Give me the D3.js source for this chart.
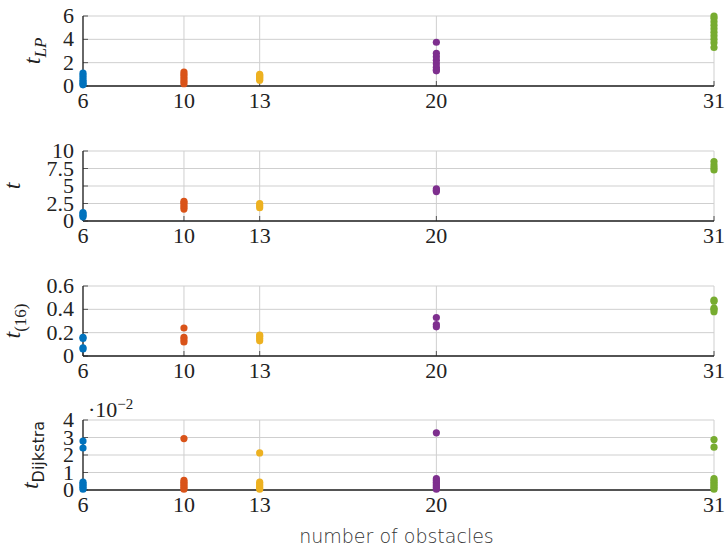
<!DOCTYPE html>
<html><head><meta charset="utf-8">
<script src="https://cdn.jsdelivr.net/npm/d3@7"></script>
<style>body{margin:0;background:#fff}svg{display:block}</style>
</head><body>
<script>
const categories = [6, 10, 13, 20, 31];
const seriesColors = ["#0072BD", "#D95319", "#EDB120", "#7E2F8E", "#77AC30"];
const tLP = [
  [0.1, 0.2, 0.35, 0.5, 0.7, 0.9, 1.1],
  [0.2, 0.4, 0.6, 0.8, 1.0, 1.2],
  [0.5, 0.6, 0.7, 0.8, 0.9, 1.0],
  [1.3, 1.4, 1.6, 1.9, 2.2, 2.5, 2.8, 3.75],
  [3.3, 3.7, 4.0, 4.3, 4.6, 4.9, 5.2, 5.5, 5.8, 6.0]
];
const tTotal = [
  [0.6, 0.8, 1.0, 1.2],
  [1.7, 2.0, 2.3, 2.6, 2.8],
  [1.9, 2.2, 2.5],
  [4.2, 4.4, 4.6],
  [7.3, 7.6, 8.0, 8.5]
];
const t16 = [
  [0.06, 0.07, 0.15, 0.16],
  [0.12, 0.14, 0.16, 0.24],
  [0.13, 0.15, 0.17, 0.18],
  [0.25, 0.27, 0.33],
  [0.38, 0.40, 0.41, 0.47, 0.48]
];
const tDijkstra = [
  [0.0005, 0.0015, 0.0025, 0.0035, 0.0045, 0.024, 0.028],
  [0.0005, 0.0015, 0.0025, 0.0035, 0.0045, 0.0055, 0.0294],
  [0.0005, 0.0015, 0.0025, 0.0035, 0.0045, 0.0212],
  [0.0005, 0.0015, 0.0025, 0.0035, 0.0045, 0.0055, 0.0065, 0.0327],
  [0.0005, 0.0015, 0.0025, 0.0035, 0.0045, 0.0055, 0.0065, 0.0245, 0.0288]
];
const yTicks1 = [0, 2, 4, 6];
const yTicks2 = [0, 2.5, 5, 7.5, 10];
const yTicks3 = [0, 0.2, 0.4, 0.6];
const yTicks4 = [0, 0.01, 0.02, 0.03, 0.04];
const xLabel = "number of obstacles";

const W = 727, H = 547;
const svg = d3.select("body").append("svg").attr("width", W).attr("height", H);
const x = d3.scaleLinear().domain([6, 31]).range([83, 714]);
const serif = "'Liberation Serif', 'DejaVu Serif', serif";
const sans = "'DejaVu Sans', sans-serif";

const panels = [
  {data: tLP, ticks: yTicks1, top: 16, fmt: d => d, label: "LP", labelX: 40},
  {data: tTotal, ticks: yTicks2, top: 151, fmt: d => d, label: "", labelX: 20},
  {data: t16, ticks: yTicks3, top: 286, fmt: d => d, label: "(16)", labelX: 20},
  {data: tDijkstra, ticks: yTicks4, top: 420, fmt: d => Math.round(d * 100), label: "Dijkstra", labelX: 38}
];

panels.forEach((p, pi) => {
  const h = 70;
  const y = d3.scaleLinear().domain([p.ticks[0], p.ticks[p.ticks.length - 1]]).range([p.top + h, p.top]);
  const g = svg.append("g");
  g.selectAll(".hg").data(p.ticks).join("line")
    .attr("x1", x(6)).attr("x2", x(31)).attr("y1", d => y(d)).attr("y2", d => y(d))
    .attr("stroke", "#cfcfcf").attr("stroke-width", 1);
  g.selectAll(".vg").data(categories).join("line")
    .attr("x1", d => x(d)).attr("x2", d => x(d)).attr("y1", p.top).attr("y2", p.top + h)
    .attr("stroke", "#cfcfcf").attr("stroke-width", 1);
  g.selectAll(".yt").data(p.ticks).join("line")
    .attr("x1", x(6)).attr("x2", x(6) + 5).attr("y1", d => y(d)).attr("y2", d => y(d))
    .attr("stroke", "#555").attr("stroke-width", 1);
  g.selectAll(".xt").data(categories).join("line")
    .attr("x1", d => x(d)).attr("x2", d => x(d)).attr("y1", p.top + h).attr("y2", p.top + h - 5)
    .attr("stroke", "#555").attr("stroke-width", 1);
  g.append("line").attr("x1", x(6)).attr("x2", x(6)).attr("y1", p.top).attr("y2", p.top + h)
    .attr("stroke", "#222").attr("stroke-width", 1.3);
  g.append("line").attr("x1", x(6)).attr("x2", x(31)).attr("y1", p.top + h).attr("y2", p.top + h)
    .attr("stroke", "#222").attr("stroke-width", 1.3);
  g.selectAll(".yl").data(p.ticks).join("text")
    .attr("x", 74).attr("y", d => y(d) + 7).attr("text-anchor", "end")
    .attr("font-family", serif).attr("font-size", 22).attr("fill", "#222")
    .text(p.fmt);
  g.selectAll(".xl").data(categories).join("text")
    .attr("x", d => x(d)).attr("y", p.top + h + 22).attr("text-anchor", "middle")
    .attr("font-family", serif).attr("font-size", 22).attr("fill", "#222")
    .text(d => d);
  p.data.forEach((vals, ci) => {
    g.selectAll(".pt" + ci).data(vals).join("circle")
      .attr("cx", x(categories[ci])).attr("cy", d => y(d)).attr("r", 3.6)
      .attr("fill", seriesColors[ci]);
  });
  const cy = p.top + h / 2;
  const lab = g.append("text")
    .attr("transform", `translate(${p.labelX},${cy}) rotate(-90)`)
    .attr("text-anchor", "middle").attr("fill", "#222");
  lab.append("tspan").attr("font-family", serif).attr("font-style", "italic").attr("font-size", 24).text("t");
  if (p.label) {
    const ts = lab.append("tspan").attr("dy", 6).attr("font-size", 17);
    if (p.label === "LP") ts.attr("font-family", serif).attr("font-style", "italic");
    else if (p.label === "(16)") ts.attr("font-family", serif);
    else ts.attr("font-family", sans).attr("font-size", 16);
    ts.text(p.label);
  }
  if (pi === 3) {
    const sc = g.append("text").attr("x", 88).attr("y", p.top - 3)
      .attr("font-family", serif).attr("font-size", 22).attr("fill", "#222");
    sc.append("tspan").text("\u00b710");
    sc.append("tspan").attr("dy", -8).attr("font-size", 15).text("\u22122");
  }
});

svg.append("text").attr("x", x(18.5) - 2).attr("y", 543).attr("text-anchor", "middle")
  .attr("font-family", sans).attr("font-size", 19).attr("font-weight", 300).attr("fill", "#333").text(xLabel);
</script>
</body></html>
